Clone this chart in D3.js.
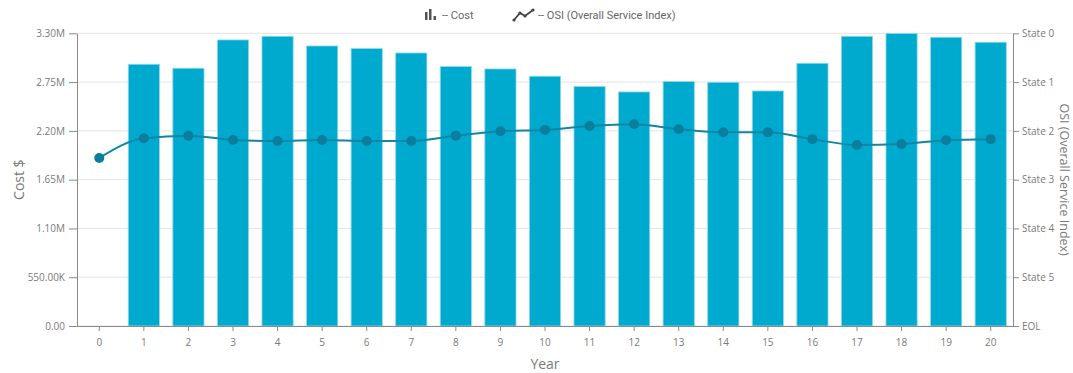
<!DOCTYPE html>
<html><head><meta charset="utf-8">
<script src="https://cdn.jsdelivr.net/npm/d3@7"></script>
<style>
body{margin:0;background:#fff;}
svg{display:block;font-family:"Open Sans",sans-serif;}
</style></head>
<body><svg id="c" width="1073" height="373"></svg>
<script>
const years = [0,1,2,3,4,5,6,7,8,9,10,11,12,13,14,15,16,17,18,19,20];
const cost = [0,2.951,2.906,3.225,3.266,3.157,3.128,3.078,2.925,2.898,2.816,2.700,2.639,2.756,2.748,2.650,2.962,3.266,3.297,3.255,3.199].map(v=>v*1e6);
const osi = [2.555,2.152,2.098,2.186,2.207,2.186,2.207,2.207,2.098,2.008,1.98,1.90,1.865,1.967,2.03,2.03,2.17,2.29,2.27,2.19,2.17];
const costTicks = [0,550000,1100000,1650000,2200000,2750000,3300000];
const costTickLabels = ["0.00","550.00K","1.10M","1.65M","2.20M","2.75M","3.30M"];
const stateTicks = [0,1,2,3,4,5,6];
const stateLabels = ["State 0","State 1","State 2","State 3","State 4","State 5","EOL"];

const svg = d3.select("#c");
const m = {l:77, r:1013, t:33.3, b:326};
const x = d3.scaleBand().domain(years).range([m.l,m.r]).paddingInner(0.3).paddingOuter(0.15);
const xc = d => x(d)+x.bandwidth()/2;
const y = d3.scaleLinear().domain([0,3300000]).range([m.b,m.t]);
const y2 = d3.scaleLinear().domain([0,6]).range([m.t,m.b]);

// grid
svg.append("g").selectAll("line").data(costTicks).join("line")
  .attr("x1",m.l).attr("x2",m.r).attr("y1",d=>y(d)).attr("y2",d=>y(d))
  .attr("stroke","#e3e3e3").attr("stroke-width",1);

// bars
svg.append("g").selectAll("rect").data(years).join("rect")
  .attr("x",d=>x(d)).attr("width",x.bandwidth())
  .attr("y",(d,i)=>y(cost[i])).attr("height",(d,i)=>m.b-y(cost[i]))
  .attr("fill","#00aacf").attr("stroke","#8fd9ea").attr("stroke-width",0.8);

// axes
const axStyle = g=>{
  g.selectAll(".domain").attr("stroke","#8a8a8a");
  g.selectAll(".tick line").attr("stroke","#8a8a8a");
  g.selectAll("text").attr("fill","#7a7a7a").style("font-size","10px").style("font-family","'Open Sans',sans-serif");
};
svg.append("g").attr("transform",`translate(${m.l},0)`)
  .call(d3.axisLeft(y).tickValues(costTicks).tickFormat((d,i)=>costTickLabels[i]).tickSize(8).tickSizeOuter(0).tickPadding(4))
  .call(axStyle);
svg.append("g").attr("transform",`translate(${m.r},0)`)
  .call(d3.axisRight(y2).tickValues(stateTicks).tickFormat((d,i)=>stateLabels[i]).tickSize(6).tickSizeOuter(0).tickPadding(3))
  .call(axStyle);
svg.append("g").attr("transform",`translate(0,${m.b})`)
  .call(d3.axisBottom(x).tickSize(5).tickSizeOuter(0).tickPadding(8))
  .call(axStyle);

// line
const line = d3.line().x((d,i)=>xc(years[i])).y(d=>y2(d)).curve(d3.curveMonotoneX);
svg.append("path").datum(osi).attr("d",line).attr("fill","none")
  .attr("stroke","#1385a3").attr("stroke-width",2);
svg.append("g").selectAll("circle").data(osi).join("circle")
  .attr("cx",(d,i)=>xc(years[i])).attr("cy",d=>y2(d)).attr("r",5)
  .attr("fill","#0a7e9c");

// axis titles
svg.append("text").attr("transform",`translate(24,${(m.t+m.b)/2}) rotate(-90)`)
  .attr("text-anchor","middle").attr("fill","#7a7a7a").style("font-size","14px").text("Cost $");
svg.append("text").attr("transform",`translate(1060,${(m.t+m.b)/2}) rotate(90)`)
  .attr("text-anchor","middle").attr("fill","#7a7a7a").style("font-size","12.5px").text("OSI (Overall Service Index)");
svg.append("text").attr("x",(m.l+m.r)/2).attr("y",369)
  .attr("text-anchor","middle").attr("fill","#7a7a7a").style("font-size","14px").text("Year");

// legend
const lg = svg.append("g").style("font-family","Roboto,sans-serif").style("font-size","11px");
lg.append("rect").attr("x",425).attr("y",12).attr("width",2.5).attr("height",8).attr("fill","#555");
lg.append("rect").attr("x",429).attr("y",9).attr("width",2.5).attr("height",11).attr("fill","#555");
lg.append("rect").attr("x",433.5).attr("y",16).attr("width",2.5).attr("height",4).attr("fill","#555");
lg.append("text").attr("x",442).attr("y",19).attr("fill","#666").text("-- Cost");
lg.append("path").attr("d","M514,20 L520,13 L525,16 L533,10").attr("fill","none").attr("stroke","#444").attr("stroke-width",1.8);
[[514,20],[520,13],[525,16],[533,10]].forEach(p=>lg.append("circle").attr("cx",p[0]).attr("cy",p[1]).attr("r",1.6).attr("fill","#444"));
lg.append("text").attr("x",538).attr("y",19).attr("fill","#666").text("-- OSI (Overall Service Index)");
</script></body></html>
